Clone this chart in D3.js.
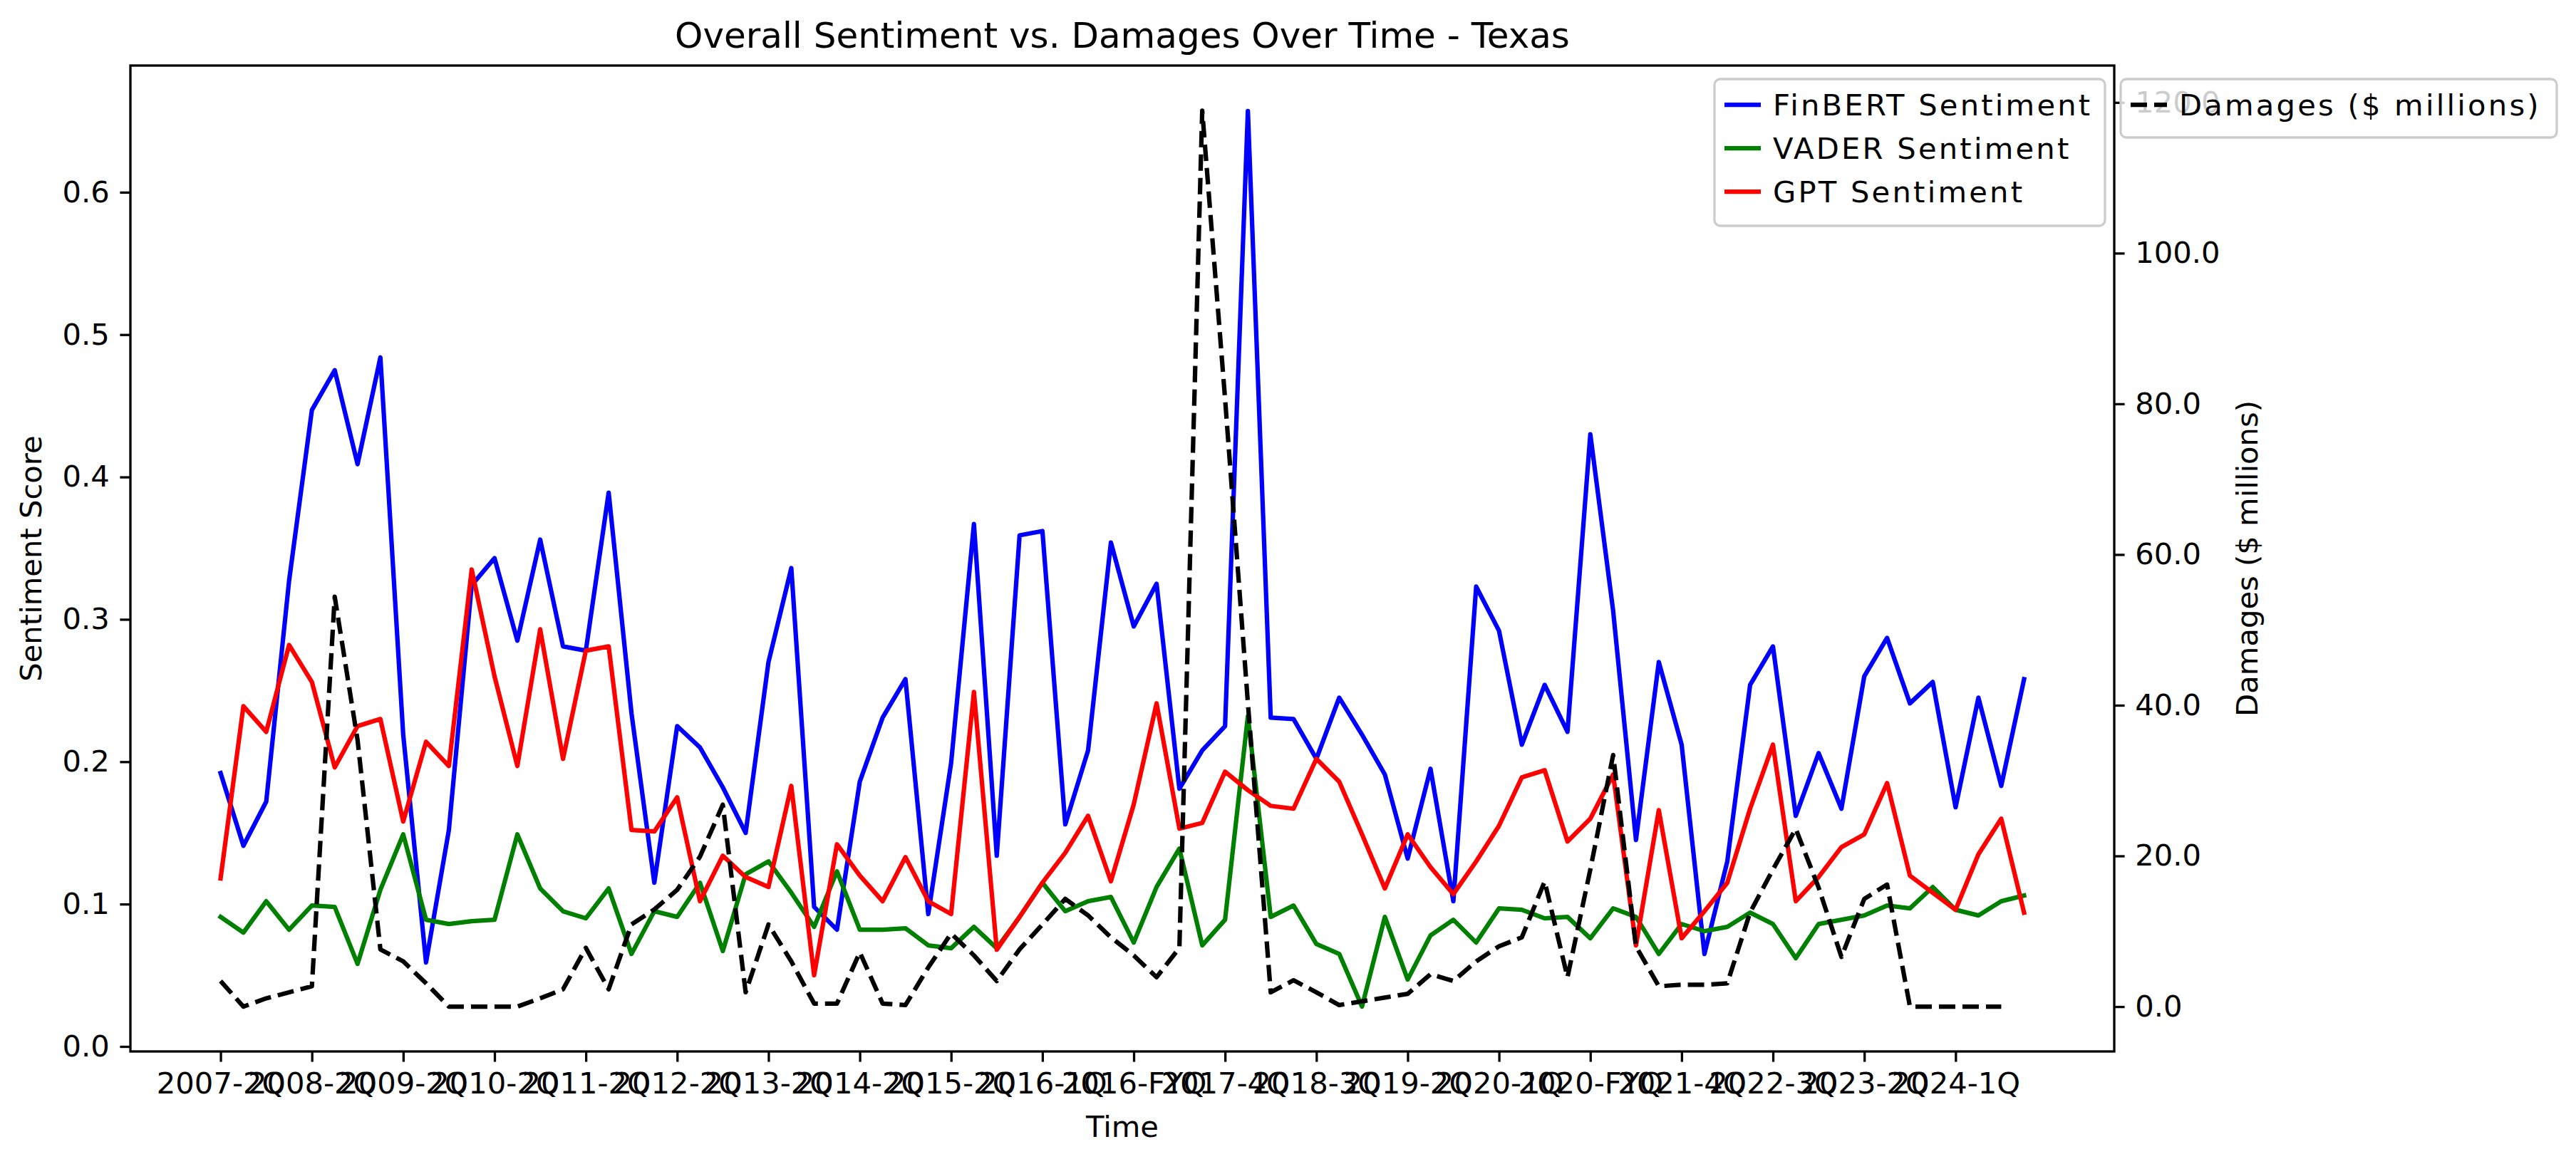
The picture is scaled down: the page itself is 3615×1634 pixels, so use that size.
<!DOCTYPE html>
<html><head><meta charset="utf-8">
<script src="https://cdn.jsdelivr.net/npm/d3@7"></script>
<style>body{margin:0;background:#fff}svg{display:block}text{font-family:"DejaVu Sans",sans-serif;fill:#000}</style>
</head><body><svg id="c" width="3615" height="1634"></svg>
<script>
const categories = ["2007-2Q","2007-3Q","2007-4Q",
"2008-1Q","2008-2Q","2008-3Q","2008-4Q","2009-1Q","2009-2Q","2009-3Q","2009-4Q",
"2010-1Q","2010-2Q","2010-3Q","2010-4Q","2011-1Q","2011-2Q","2011-3Q","2011-4Q",
"2012-1Q","2012-2Q","2012-3Q","2012-4Q","2013-1Q","2013-2Q","2013-3Q","2013-4Q",
"2014-1Q","2014-2Q","2014-3Q","2014-4Q",
"2015-1Q","2015-2Q","2015-3Q","2015-4Q","2015-FYQ","2016-1Q","2016-2Q","2016-3Q","2016-4Q","2016-FYQ",
"2017-1Q","2017-2Q","2017-3Q","2017-4Q","2017-FYQ","2018-1Q","2018-2Q","2018-3Q","2018-4Q","2018-FYQ",
"2019-1Q","2019-2Q","2019-3Q","2019-4Q","2019-FYQ","2020-1Q","2020-2Q","2020-3Q","2020-4Q","2020-FYQ",
"2021-1Q","2021-2Q","2021-3Q","2021-4Q","2021-FYQ","2022-1Q","2022-2Q","2022-3Q","2022-4Q","2022-FYQ",
"2023-1Q","2023-2Q","2023-3Q","2023-4Q","2023-FYQ","2024-1Q","2024-2Q","2024-3Q","2024-4Q"];
const finbert = [0.192,0.141,0.172,0.327,0.447,0.475,0.409,0.484,0.219,0.059,0.152,0.324,0.343,0.285,0.356,0.281,0.278,0.389,0.234,0.115,
0.225,0.210,0.182,0.150,0.270,0.336,0.098,0.082,0.186,0.231,0.258,0.093,0.199,0.367,0.134,0.359,0.362,0.156,0.208,0.354,
0.295,0.325,0.181,0.208,0.225,0.657,0.231,0.230,0.202,0.245,0.219,0.191,0.132,0.195,0.102,0.323,0.292,0.212,0.254,0.221,
0.430,0.306,0.145,0.270,0.212,0.065,0.130,0.254,0.281,0.162,0.206,0.167,0.260,0.287,0.241,0.256,0.168,0.245,0.183,0.258];
const vader = [0.091,0.080,0.102,0.082,0.099,0.098,0.058,0.110,0.149,0.089,0.086,0.088,0.089,0.149,0.111,0.095,0.090,0.111,0.065,0.095,
0.091,0.115,0.067,0.121,0.130,0.108,0.084,0.123,0.082,0.082,0.083,0.071,0.069,0.084,0.069,0.091,0.115,0.095,0.102,0.105,
0.073,0.112,0.139,0.071,0.089,0.232,0.091,0.099,0.072,0.065,0.028,0.091,0.047,0.078,0.089,0.073,0.097,0.096,0.090,0.091,
0.076,0.097,0.091,0.065,0.086,0.081,0.084,0.094,0.086,0.062,0.086,0.089,0.092,0.099,0.097,0.112,0.096,0.092,0.102,0.106];
const gpt = [0.118,0.239,0.221,0.282,0.256,0.196,0.225,0.230,0.158,0.214,0.197,0.335,0.260,0.197,0.293,0.202,0.278,0.281,0.152,0.151,
0.175,0.102,0.134,0.119,0.112,0.183,0.050,0.142,0.120,0.102,0.133,0.102,0.093,0.249,0.068,0.091,0.115,0.136,0.162,0.116,
0.170,0.241,0.153,0.157,0.193,0.180,0.169,0.167,0.202,0.186,0.149,0.111,0.149,0.126,0.107,0.130,0.155,0.189,0.194,0.144,
0.160,0.191,0.071,0.166,0.076,0.095,0.115,0.167,0.212,0.102,0.119,0.140,0.149,0.185,0.120,0.108,0.096,0.135,0.160,0.094];
const damages = [3.4,0,1.1,1.9,2.7,54.4,35.4,7.6,6.0,3.1,0,0,0,0,1.1,2.3,7.8,2.3,10.9,12.9,
15.5,19.9,26.8,1.9,10.9,6.0,0.4,0.4,7.2,0.4,0.2,5.2,9.7,6.8,3.4,7.6,10.9,14.3,12.1,9.2,
6.8,3.9,7.8,118.9,80.7,40.3,1.9,3.5,1.9,0.2,0.7,1.2,1.7,4.3,3.4,6.0,8.0,9.2,16.6,3.9,
18.2,33.4,8.0,2.7,2.9,2.9,3.1,12.5,18.2,23.6,15.8,6.6,14.3,16.2,0,0,0,0,0,null];
const leftTicks = [0.0,0.1,0.2,0.3,0.4,0.5,0.6];
const rightTicks = [0,20,40,60,80,100,120];
const xTickEvery = 4;

const svg = d3.select("#c");
const L=183, R=2967, T=92, B=1476;
const FS=41.7;
const x = d3.scaleLinear().domain([-3.95, categories.length-1+3.95]).range([L,R]);
const yL = d3.scaleLinear().domain([-0.0035,0.689]).range([B,T]);
const yR = d3.scaleLinear().domain([-5.95,124.9]).range([B,T]);

svg.append("clipPath").attr("id","pc").append("rect").attr("x",L).attr("y",T).attr("width",R-L).attr("height",B-T);
const plot = svg.append("g").attr("clip-path","url(#pc)");
const line = (arr,ys)=>d3.line().defined(d=>d!=null).x((d,i)=>x(i)).y(d=>ys(d))(arr);
const series=[{n:"FinBERT Sentiment",d:finbert,c:"#0000ff"},{n:"VADER Sentiment",d:vader,c:"#008000"},{n:"GPT Sentiment",d:gpt,c:"#ff0000"}];
series.forEach(s=>plot.append("path").attr("d",line(s.d,yL)).attr("fill","none").attr("stroke",s.c).attr("stroke-width",6.25).attr("stroke-linejoin","round").attr("stroke-linecap","square"));
plot.append("path").attr("d",line(damages,yR)).attr("fill","none").attr("stroke","#000").attr("stroke-width",6.25).attr("stroke-dasharray","23,10").attr("stroke-linejoin","round");

const ax = d3.axisBottom(x).tickValues(d3.range(0,categories.length,xTickEvery)).tickFormat(i=>categories[i]).tickSize(14.6).tickPadding(14.6);
const al = d3.axisLeft(yL).tickValues(leftTicks).tickFormat(d3.format(".1f")).tickSize(14.6).tickPadding(14.6);
const ar = d3.axisRight(yR).tickValues(rightTicks).tickFormat(d3.format(".1f")).tickSize(14.6).tickPadding(14.6);
[[ax,`translate(0,${B})`],[al,`translate(${L},0)`],[ar,`translate(${R},0)`]].forEach(([a,t])=>{
  const gg=svg.append("g").attr("transform",t).call(a);
  gg.select(".domain").remove();
  gg.selectAll("line").attr("stroke","#000").attr("stroke-width",3.3);
  gg.selectAll("text").attr("font-size",FS).attr("font-family","DejaVu Sans");
});
svg.append("rect").attr("x",L).attr("y",T).attr("width",R-L).attr("height",B-T).attr("fill","none").attr("stroke","#000").attr("stroke-width",3.3);

svg.append("text").attr("x",(L+R)/2).attr("y",67).attr("text-anchor","middle").attr("font-size",50).text("Overall Sentiment vs. Damages Over Time - Texas");
svg.append("text").attr("x",(L+R)/2).attr("y",1596).attr("text-anchor","middle").attr("font-size",FS).text("Time");
svg.append("text").attr("transform",`translate(58,${(T+B)/2}) rotate(-90)`).attr("text-anchor","middle").attr("font-size",FS).text("Sentiment Score");
svg.append("text").attr("transform",`translate(3168,${(T+B)/2}) rotate(-90)`).attr("text-anchor","middle").attr("font-size",FS).text("Damages ($ millions)");

function legend(x0,y0,w,items){
  const h = items.length*62+20;
  svg.append("rect").attr("x",x0).attr("y",y0).attr("width",w).attr("height",h).attr("rx",8)
    .attr("fill","#fff").attr("fill-opacity",0.8).attr("stroke","#cccccc").attr("stroke-width",3.3);
  items.forEach((it,k)=>{
    const yy=y0+36+k*61;
    svg.append("line").attr("x1",x0+14).attr("x2",x0+65).attr("y1",yy).attr("y2",yy).attr("stroke",it.c).attr("stroke-width",6.25).attr("stroke-dasharray",it.dash||null);
    svg.append("text").attr("x",x0+82).attr("y",yy+15).attr("font-size",FS).attr("letter-spacing",3.2).text(it.n);
  });
}
legend(2406,111,548,series);
legend(2976,111,612,[{n:"Damages ($ millions)",c:"#000",dash:"23,10"}]);
</script></body></html>
